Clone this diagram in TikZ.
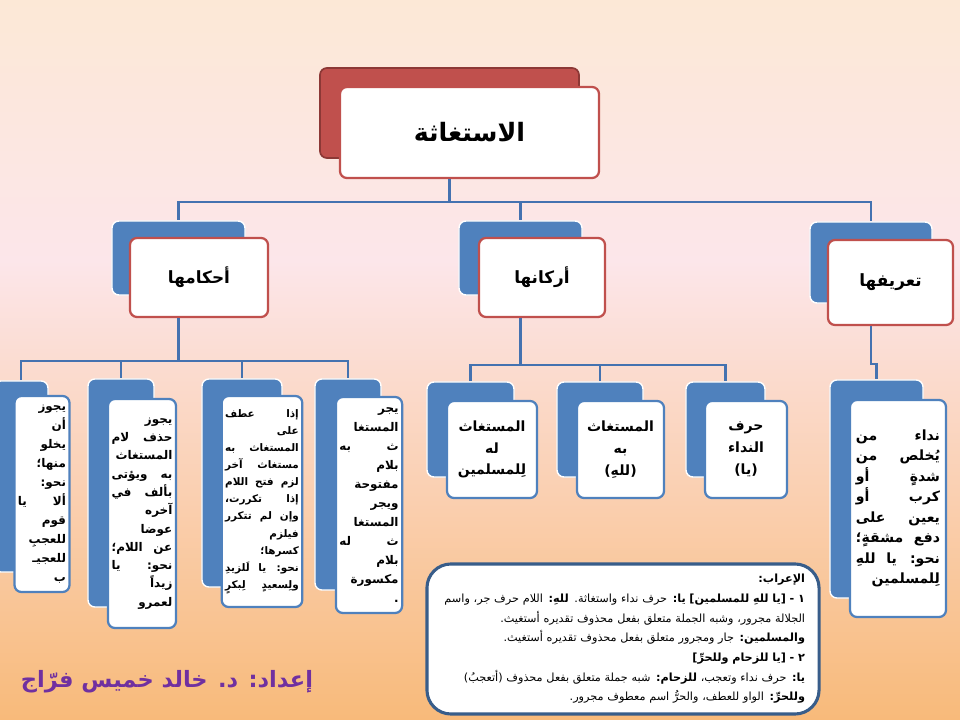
\documentclass[tikz,border=0pt]{standalone}
\usepackage{fontspec}
\newfontfamily\arabicfont[Script=Arabic]{DejaVu Sans}
\TeXXeTstate=1
\newcommand{\artl}[1]{\beginR#1\endR}
\definecolor{bgtop}{RGB}{252,232,214}
\definecolor{bgpink}{RGB}{252,230,234}
\definecolor{bgbottom}{RGB}{248,186,122}
\definecolor{accentblue}{RGB}{79,129,189}
\definecolor{linkblue}{RGB}{68,114,176}
\definecolor{accentred}{RGB}{192,80,77}
\definecolor{darkred}{RGB}{140,56,54}
\definecolor{framenavy}{RGB}{56,93,138}
\definecolor{authorpurple}{RGB}{112,48,160}
\tikzset{
    blueback/.style={rectangle, rounded corners=5pt, fill=accentblue, draw=white, line width=1pt},
    redback/.style={blueback, fill=accentred, draw=darkred, line width=1.2pt},
    headbox/.style={rectangle, rounded corners=5pt, fill=white, draw=accentred, line width=1.6pt, align=center, font=\arabicfont\bfseries\fontsize{12}{15}\selectfont},
    leafbox/.style={rectangle, rounded corners=5pt, fill=white, draw=accentblue, line width=1.6pt, align=right, inner sep=2.5pt, font=\arabicfont\bfseries\fontsize{8.5}{13.5}\selectfont},
    keybox/.style={leafbox, align=center, font=\arabicfont\bfseries\fontsize{10}{15.5}\selectfont},
    notebox/.style={rectangle, rounded corners=0.6cm, fill=white, draw=framenavy, line width=2.2pt, align=right, font=\arabicfont\fontsize{8}{14}\selectfont},
    connector/.style={draw=linkblue, line width=1.8pt}
}

\begin{document}
\begin{tikzpicture}[x=0.025cm, y=-0.025cm]
    \useasboundingbox (0,0) rectangle (960,720);
    \clip (0,0) rectangle (960,720);
    % background
    \fill[top color=bgtop, bottom color=bgpink] (0,0) rectangle (960,262);
    \fill[top color=bgpink, bottom color=bgbottom] (0,260) rectangle (960,720);

    % title
    \node (title-back) [redback, minimum width=6.475cm, minimum height=2.25cm] at (449.5,113) {};
    \node (title) [headbox, minimum width=6.475cm, minimum height=2.275cm, font=\arabicfont\bfseries\fontsize{18}{22}\selectfont] at (469.5,132.5) {\artl{الاستغاثة}};

    % second level
    \node (ahkam-back) [blueback, minimum width=3.325cm, minimum height=1.85cm] at (178.5,258) {};
    \node (ahkam) [headbox, minimum width=3.45cm, minimum height=1.975cm] at (199,277.5) {\artl{أحكامها}};
    \node (arkan-back) [blueback, minimum width=3.075cm, minimum height=1.85cm] at (520.5,258) {};
    \node (arkan) [headbox, minimum width=3.15cm, minimum height=1.975cm] at (542,277.5) {\artl{أركانها}};
    \node (tarif-back) [blueback, minimum width=3.05cm, minimum height=2.025cm] at (871,262.5) {};
    \node (tarif) [headbox, minimum width=3.125cm, minimum height=2.125cm] at (890.5,282.5) {\artl{تعريفها}};

    % rules under ahkam
    \node (jawaz-back) [blueback, minimum width=1.35cm, minimum height=4.775cm] at (21,476.5) {};
    \node (jawaz) [leafbox, text width=1.2cm, minimum width=1.35cm, minimum height=4.9cm] at (42,494) {\artl{يجوز}\\\artl{أن}\\\artl{يخلو}\\\artl{منها؛}\\\artl{نحو:}\\\artl{ألا \hfill يا}\\\artl{قوم}\\\artl{للعجبِ}\\\artl{للعجيـ}\\\artl{ب}};
    \node (hadhf-back) [blueback, minimum width=1.65cm, minimum height=5.7cm] at (121,493) {};
    \node (hadhf) [leafbox, text width=1.52cm, minimum width=1.7cm, minimum height=5.725cm, font=\arabicfont\bfseries\fontsize{8.5}{13}\selectfont] at (142,513.5) {\artl{يجوز}\\\artl{حذف \hfill لام}\\\artl{المستغاث}\\\artl{به \hfill ويؤتى}\\\artl{بألف \hfill في}\\\artl{آخره}\\\artl{عوضا}\\\artl{عن \hfill اللام؛}\\\artl{نحو: \hfill يا}\\\artl{زيداً}\\\artl{لعمرو}};
    \node (atf-back) [blueback, minimum width=2cm, minimum height=5.2cm] at (242,483) {};
    \node (atf) [leafbox, text width=1.84cm, minimum width=2cm, minimum height=5.275cm, font=\arabicfont\bfseries\fontsize{7.4}{12.2}\selectfont] at (262,501.5) {\artl{إذا \hfill عطف}\\\artl{على}\\\artl{المستغاث \hfill به}\\\artl{مستغاث \hfill آخر}\\\artl{لزم \hfill فتح \hfill اللام}\\\artl{إذا \hfill تكررت،}\\\artl{وإن \hfill لم \hfill تتكرر}\\\artl{فيلزم}\\\artl{كسرها؛}\\\artl{نحو: \hfill يا \hfill لَلزيدِ}\\\artl{ولِسعيدٍ \hfill لِبكرٍ}};
    \node (jarr-back) [blueback, minimum width=1.65cm, minimum height=5.275cm] at (348,484.5) {};
    \node (jarr) [leafbox, text width=1.48cm, minimum width=1.65cm, minimum height=5.4cm] at (369,505) {\artl{يجر}\\\artl{المستغا}\\\artl{ث \hfill به}\\\artl{بلام}\\\artl{مفتوحة}\\\artl{ويجر}\\\artl{المستغا}\\\artl{ث \hfill له}\\\artl{بلام}\\\artl{مكسورة}\\\artl{.}};

    % parts under arkan
    \node (lahu-back) [blueback, minimum width=2.175cm, minimum height=2.375cm] at (470.5,429.5) {};
    \node (lahu) [keybox, minimum width=2.25cm, minimum height=2.425cm] at (492,449.5) {\artl{المستغاث}\\\artl{له}\\\artl{لِلمسلمين}};
    \node (bihi-back) [blueback, minimum width=2.15cm, minimum height=2.375cm] at (600,429.5) {};
    \node (bihi) [keybox, minimum width=2.175cm, minimum height=2.425cm] at (620.5,449.5) {\artl{المستغاث}\\\artl{به}\\\artl{(للهِ)}};
    \node (harf-back) [blueback, minimum width=1.975cm, minimum height=2.375cm] at (725.5,429.5) {};
    \node (harf) [keybox, minimum width=2.05cm, minimum height=2.425cm] at (746,449.5) {\artl{حرف}\\\artl{النداء}\\\artl{(يا)}};

    % definition under tarif
    \node (def-back) [blueback, minimum width=2.325cm, minimum height=5.45cm] at (876.5,489) {};
    \node (def) [leafbox, text width=2.1cm, minimum width=2.4cm, minimum height=5.425cm, font=\arabicfont\bfseries\fontsize{10}{14.6}\selectfont] at (898,508.5) {\artl{نداء \hfill من}\\\artl{يُخلص \hfill من}\\\artl{شدةٍ \hfill أو}\\\artl{كرب \hfill أو}\\\artl{يعين \hfill على}\\\artl{دفع \hfill مشقةٍ؛}\\\artl{نحو: \hfill يا \hfill للهِ}\\\artl{لِلمسلمين}};

    % irab note
    \node (irab) [notebox, text width=9.1cm, minimum width=9.8cm, minimum height=3.75cm] at (623,639) {\artl{\textbf{الإعراب:}}\\
        \artl{\textbf{١ - [يا للهِ للمسلمين]} \textbf{يا:} حرف نداء واستغاثة. \textbf{للهِ:} اللام حرف جر، واسم}\\
        \artl{الجلالة مجرور، وشبه الجملة متعلق بفعل محذوف تقديره أستغيث.}\\
        \artl{\textbf{والمسلمين:} جار ومجرور متعلق بفعل محذوف تقديره أستغيث.}\\
        \artl{\textbf{٢ - [يا للزحام وللحرِّ]}}\\
        \artl{\textbf{يا:} حرف نداء وتعجب، \textbf{للزحام:} شبه جملة متعلق بفعل محذوف (أتعجبُ)}\\
        \artl{\textbf{وللحرِّ:} الواو للعطف، والحرُّ اسم معطوف مجرور.}};

    % author
    \node (author) [text=authorpurple, font=\arabicfont\bfseries\fontsize{16}{19}\selectfont] at (167,682) {\artl{إعداد: د. خالد خميس فرّاج}};

    % connectors
    \coordinate (topbus) at (449.5,202);
    \draw[connector] (title-back |- title.south) -- (topbus);
    \foreach \n in {ahkam,arkan,tarif}
        \draw[connector] (topbus) -| (\n-back.north);
    \coordinate (ahkambus) at (178.5,361);
    \draw[connector] (ahkam-back |- ahkam.south) -- (ahkambus);
    \foreach \n in {jawaz,hadhf,atf,jarr}
        \draw[connector] (ahkambus) -| (\n-back.north);
    \coordinate (arkanbus) at (520.5,365);
    \draw[connector] (arkan-back |- arkan.south) -- (arkanbus);
    \foreach \n in {lahu,bihi,harf}
        \draw[connector] (arkanbus) -| (\n-back.north);
    \draw[connector] (tarif-back |- tarif.south) -- ++(0,38) -| (def-back.north);
\end{tikzpicture}
\end{document}
